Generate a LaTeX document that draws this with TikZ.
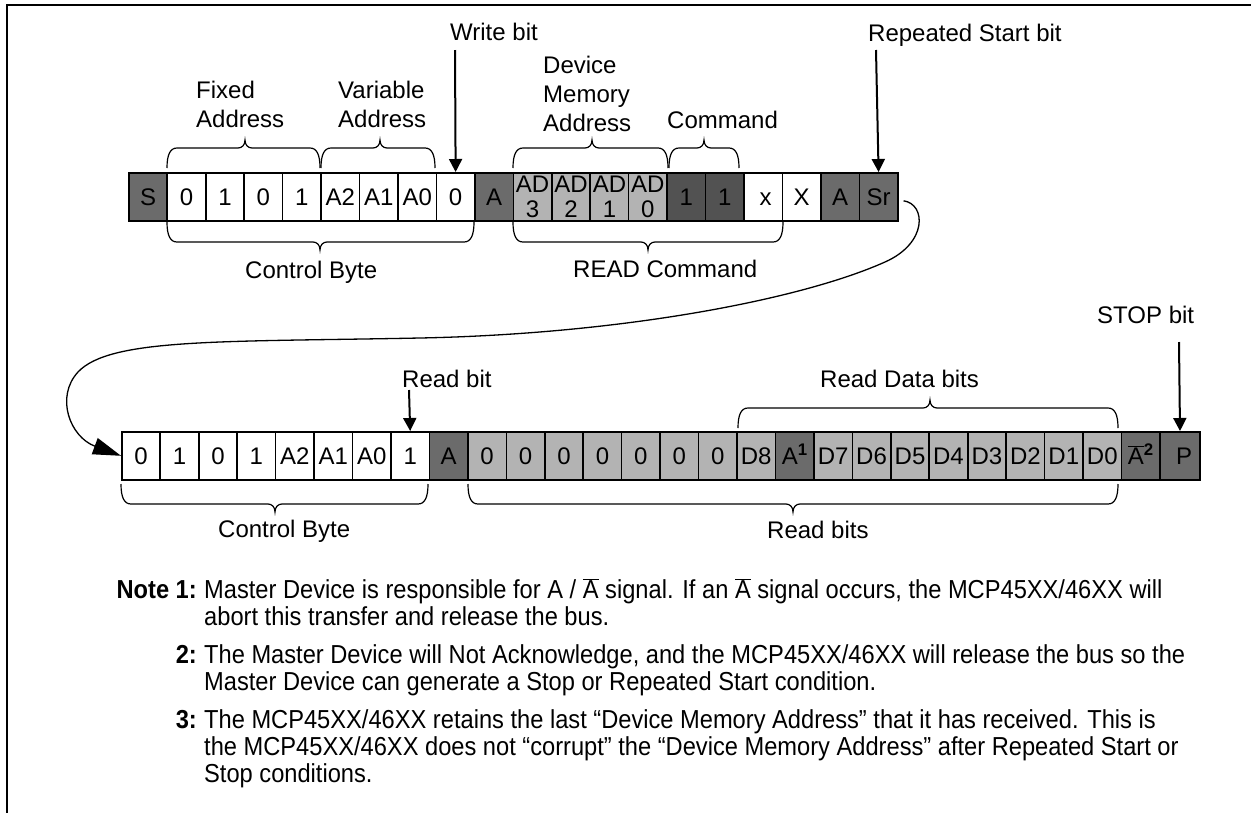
\documentclass[tikz,border=0pt]{standalone}
\usepackage{fontspec}
\setmainfont{Liberation Sans}
\newfontfamily\notefont{Liberation Sans}[FakeStretch=0.91]
\usetikzlibrary{arrows.meta}
\definecolor{dkg}{HTML}{6B6B6B}
\definecolor{dkr}{HTML}{525252}
\definecolor{ltg}{HTML}{B3B3B3}
\newcommand{\abar}{\ensuremath{\overline{\mbox{A}}}}
\newcommand{\upbrace}[4]{\draw[brc] (#1,#4) .. controls (#1,#4-13) and (#1+3,#4-20) .. (#1+10,#4-20) -- (#3-7,#4-20) .. controls (#3-3,#4-20) and (#3,#4-23) .. (#3,#4-28) .. controls (#3,#4-23) and (#3+3,#4-20) .. (#3+7,#4-20) -- (#2-10,#4-20) .. controls (#2-3,#4-20) and (#2,#4-13) .. (#2,#4);}
\newcommand{\dnbrace}[4]{\draw[brc] (#1,#4) .. controls (#1,#4+13) and (#1+3,#4+20) .. (#1+10,#4+20) -- (#3-7,#4+20) .. controls (#3-3,#4+20) and (#3,#4+23) .. (#3,#4+28) .. controls (#3,#4+23) and (#3+3,#4+20) .. (#3+7,#4+20) -- (#2-10,#4+20) .. controls (#2-3,#4+20) and (#2,#4+13) .. (#2,#4);}
\tikzset{
 cell/.style={draw, line width=1.6pt, minimum width=38.45pt, minimum height=48pt, inner sep=0pt, anchor=north west, align=center, font=\fontsize{24}{25}\selectfont},
 bit/.style={cell, text height=17.3pt, text depth=0pt},
 lbl/.style={anchor=base west, inner sep=0pt, font=\fontsize{24}{28}\selectfont},
 brc/.style={line width=1.2pt},
 arr/.style={line width=2pt, -{Triangle[length=13pt,width=13pt]}},
 curv/.style={line width=1.3pt, -{Triangle[length=28pt,width=17pt]}},
 note/.style={anchor=base west, inner sep=0pt, font=\notefont\fontsize{26}{27}\selectfont},
 notelab/.style={anchor=base east, inner sep=0pt, font=\notefont\bfseries\fontsize{26}{27}\selectfont},
}
\begin{document}
\begin{tikzpicture}[x=1pt,y=-1pt]
\useasboundingbox (0,0) rectangle (1251,812);
% frame
\draw[line width=2.2pt] (1253,5) -- (7,5) -- (7,814);
% top row
\foreach \i/\lab/\col in {1/S/dkg,2/0/white,3/1/white,4/0/white,5/1/white,6/A2/white,7/A1/white,8/A0/white,9/0/white,10/A/dkg,15/1/dkr,16/1/dkr,17/{\hspace*{5pt}x}/white,18/X/white,19/A/dkg,20/Sr/dkg}
  \node[bit, fill=\col] (t\i) at ({128+(\i-1)*38.45},172) {\lab};
\foreach \i/\lab in {11/3,12/2,13/1,14/0}
  \node[cell, fill=ltg] (t\i) at ({128+(\i-1)*38.45},172) {AD\\\lab};
% bottom row
\foreach \lab/\col [count=\i] in {0/white,1/white,0/white,1/white,A2/white,A1/white,A0/white,1/white,A/dkg,0/ltg,0/ltg,0/ltg,0/ltg,0/ltg,0/ltg,0/ltg,D8/ltg,{A\textsuperscript{\bfseries 1}}/dkg,D7/ltg,D6/ltg,D5/ltg,D4/ltg,D3/ltg,D2/ltg,D1/ltg,D0/ltg,{\abar\textsuperscript{\bfseries 2}}/dkg}
  \node[bit, fill=\col] (b\i) at ({121+(\i-1)*38.45},431) {\lab};
\node[bit, fill=dkg, minimum width=40pt] (b28) at (1159.2,431) {\hspace*{8pt}P};
% labels top
\node[lbl] (wlab) at (450,40) {Write bit};
\node[lbl] (rslab) at (868,41) {Repeated Start bit};
\node[lbl] (fx1) at (196,98) {Fixed};
\node[lbl] (fx2) at (196,127) {Address};
\node[lbl] (va1) at (338,98) {Variable};
\node[lbl] (va2) at (338,127) {Address};
\node[lbl] (dm1) at (543,73) {Device};
\node[lbl] (dm2) at (543,102) {Memory};
\node[lbl] (dm3) at (543,131) {Address};
\node[lbl] (cmd) at (667,128) {Command};
\node[lbl] (cb1) at (245,278) {Control Byte};
\node[lbl] (rc) at (573,277) {READ Command};
% labels bottom
\node[lbl] (rb) at (402,387) {Read bit};
\node[lbl] (rdb) at (820,387) {Read Data bits};
\node[lbl] (stop) at (1097,323) {STOP bit};
\node[lbl] (cb2) at (218,537) {Control Byte};
\node[lbl] (rbits) at (767,538) {Read bits};
% braces
\upbrace{167}{320}{245}{168}
\upbrace{321}{435}{380}{168}
\upbrace{513}{668}{592}{168}
\upbrace{669}{739}{704}{168}
\dnbrace{167}{474}{320}{222}
\dnbrace{513}{783}{648}{222}
\upbrace{738}{1118}{930}{428}
\dnbrace{121}{428}{275}{484}
\dnbrace{468}{1118}{793}{484}
% arrows
\coordinate (wtop) at (455,50);
\coordinate (srtop) at (876,50);
\coordinate (rbtop) at (409,390);
\coordinate (sptop) at (1179,342);
\draw[arr] (wtop) -- (t9.north);
\draw[arr] (srtop) -- (t20.north);
\draw[arr] (rbtop) -- (b8.north);
\draw[arr] (sptop) -- (b28.north);
% curve from Sr to first bottom cell
\draw[curv] ([shift={(5,4)}]t20.east) .. controls (926,204) and (928,243) .. (885,262)
  .. controls (800,300) and (620,334) .. (420,338)
  .. controls (220,342) and (110,338) .. (78,372)
  .. controls (55,397) and (70,437) .. (b1.west);
% notes
\node[notelab] (n1l) at (197,598) {Note 1:};
\node[note] (n1a) at (204,598) {Master Device is responsible for A / \abar{} signal. If an \abar{} signal occurs, the MCP45XX/46XX will};
\node[note] (n1b) at (204,625) {abort this transfer and release the bus.};
\node[notelab] (n2l) at (197,663) {2:};
\node[note] (n2a) at (204,663) {The Master Device will Not Acknowledge, and the MCP45XX/46XX will release the bus so the};
\node[note] (n2b) at (204,690) {Master Device can generate a Stop or Repeated Start condition.};
\node[notelab] (n3l) at (197,728) {3:};
\node[note] (n3a) at (204,728) {The MCP45XX/46XX retains the last “Device Memory Address” that it has received. This is};
\node[note] (n3b) at (204,755) {the MCP45XX/46XX does not “corrupt” the “Device Memory Address” after Repeated Start or};
\node[note] (n3c) at (204,782) {Stop conditions.};
\end{tikzpicture}
\end{document}
